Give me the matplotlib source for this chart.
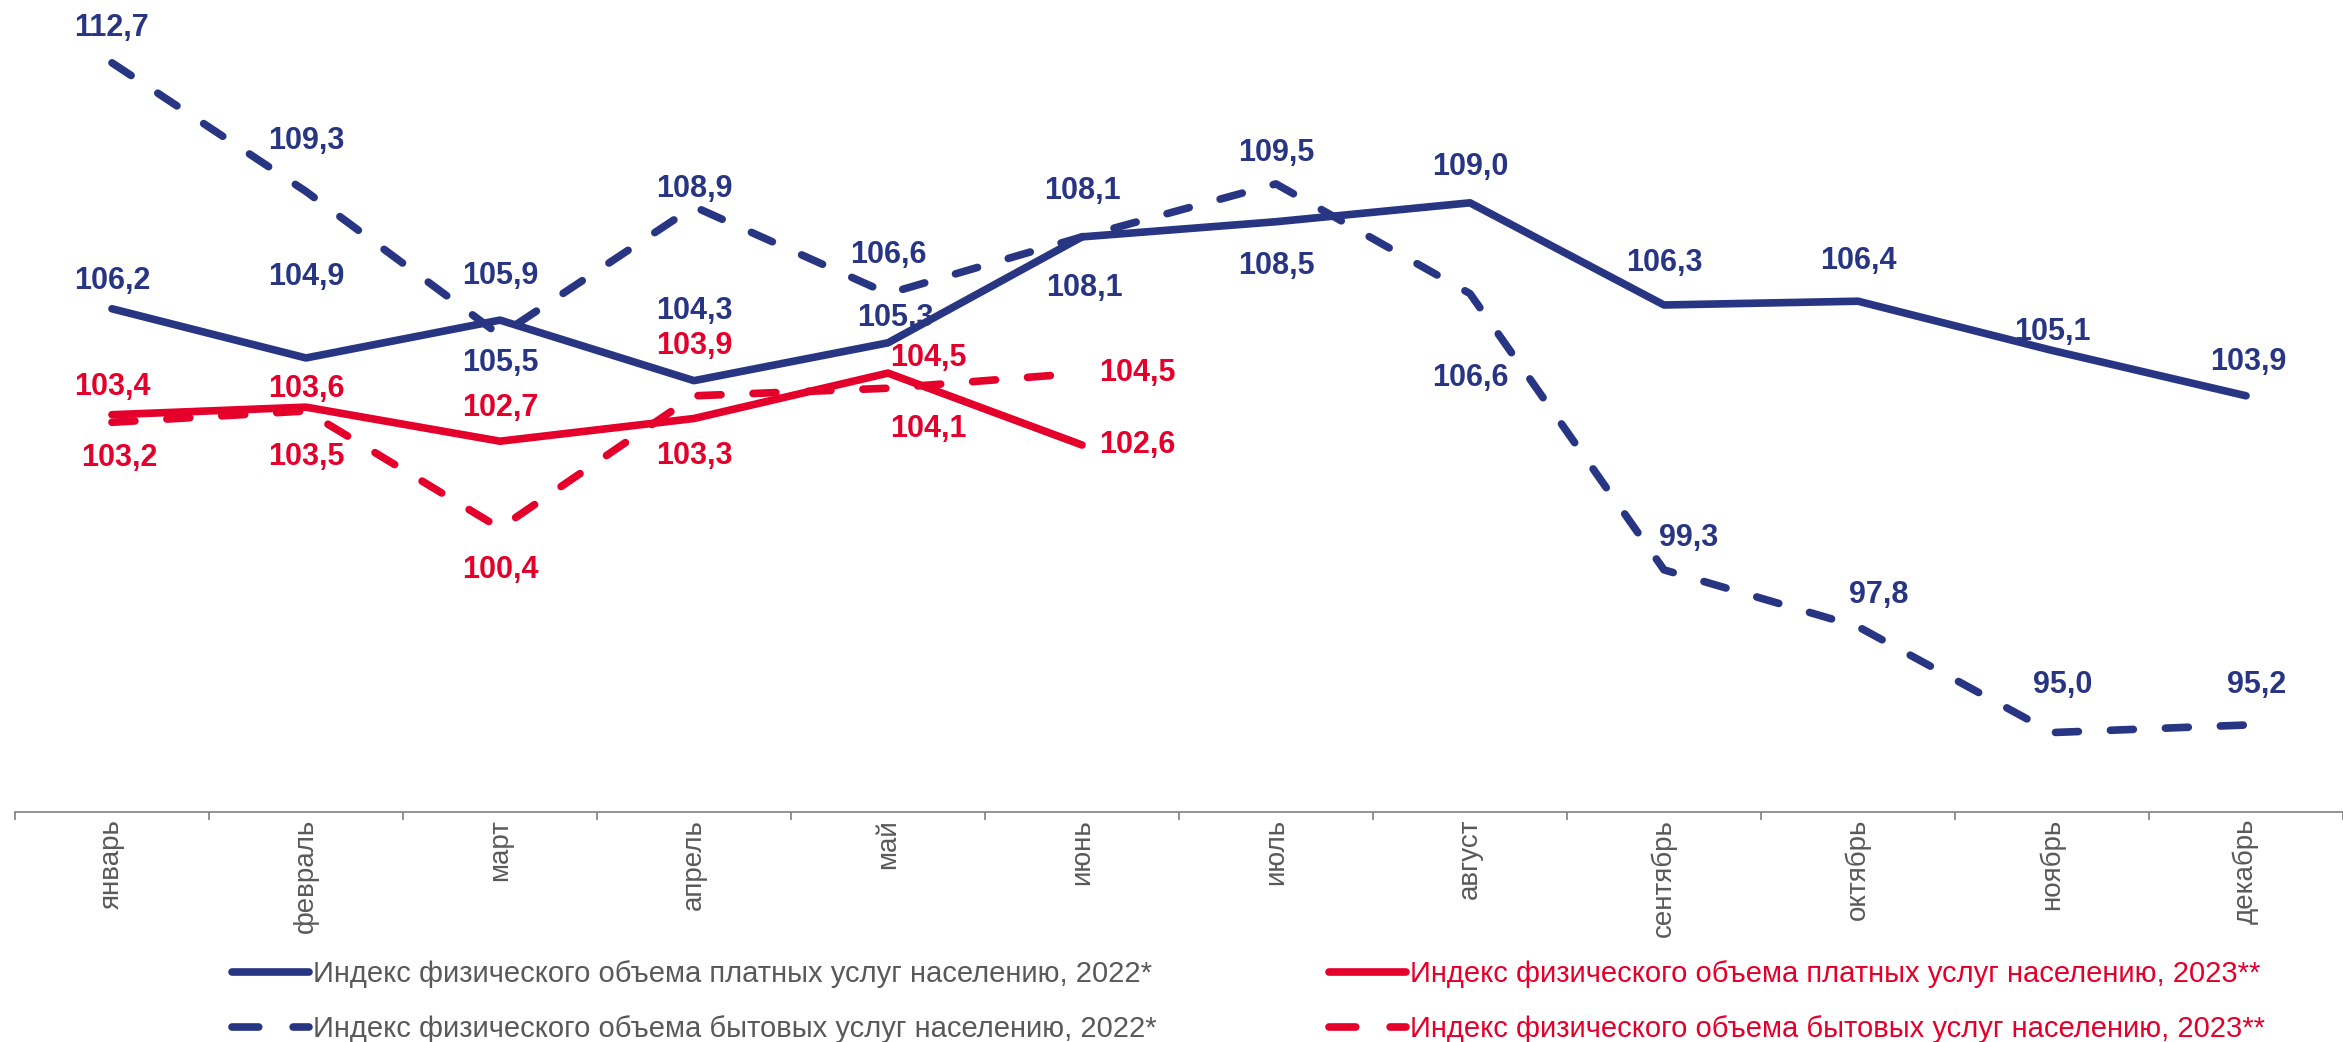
import matplotlib
matplotlib.use("Agg")
import matplotlib.pyplot as plt
from matplotlib.lines import Line2D

plt.rcParams['font.family'] = ['Liberation Sans', 'DejaVu Sans']

months = ["январь", "февраль", "март", "апрель", "май", "июнь",
          "июль", "август", "сентябрь", "октябрь", "ноябрь", "декабрь"]

paid_2022 = [106.2, 104.9, 105.9, 104.3, 105.3, 108.1, 108.5, 109.0, 106.3, 106.4, 105.1, 103.9]
house_2022 = [112.7, 109.3, 105.5, 108.9, 106.6, 108.1, 109.5, 106.6, 99.3, 97.8, 95.0, 95.2]
paid_2023 = [103.4, 103.6, 102.7, 103.3, 104.5, 102.6]
house_2023 = [103.2, 103.5, 100.4, 103.9, 104.1, 104.5]

labels = [
    "Индекс физического объема платных услуг населению, 2022*",
    "Индекс физического объема бытовых услуг населению, 2022*",
    "Индекс физического объема платных услуг населению, 2023**",
    "Индекс физического объема бытовых услуг населению, 2023**",
]

BLUE = "#283583"
RED = "#E4002B"
GRAY = "#595959"

# label offsets in points (dx, dy)
off_paid_2022 = [(0, 20), (0, 58), (0, 32), (0, 50), (5, 18), (2, -37),
                 (0, -32), (0, 26), (0, 30), (0, 29), (0, 13), (2, 24)]
off_house_2022 = [(0, 25), (0, 36), (0, -20), (0, 13), (0, 28), (0, 33),
                  (0, 22), (0, -61), (18, 23), (15, 23), (8, 34), (8, 29)]
off_paid_2023 = [(0, 20), (0, 13), (0, 24), (0, -27), (29, 11), (40, 0)]
off_house_2023 = [(5, -26), (0, -33), (0, -30), (0, 36), (29, -29), (40, 0)]

fig = plt.figure(figsize=(23.43, 10.42), dpi=100)
ax = fig.add_axes([0.0064, 0.2207, 0.9936, 0.7793])

x = list(range(len(months)))
lw = 5.5
ax.plot(x, paid_2022, color=BLUE, lw=lw, solid_capstyle="round", solid_joinstyle="round", zorder=3)
ax.plot(x, house_2022, color=BLUE, lw=lw, dashes=(3, 4.2), dash_capstyle="round", zorder=4)
ax.plot(x[:6], paid_2023, color=RED, lw=lw, solid_capstyle="round", solid_joinstyle="round", zorder=5)
ax.plot(x[:6], house_2023, color=RED, lw=lw, dashes=(3, 4.2), dash_capstyle="round", zorder=4)


def put_labels(vals, offs, color):
    for i, (v, (dx, dy)) in enumerate(zip(vals, offs)):
        ax.annotate(f"{v:.1f}".replace(".", ","), (i, v), xytext=(dx, dy),
                    textcoords="offset points", ha="center", va="center",
                    fontsize=22, fontweight="bold", color=color)


put_labels(paid_2022, off_paid_2022, BLUE)
put_labels(house_2022, off_house_2022, BLUE)
put_labels(paid_2023, off_paid_2023, RED)
put_labels(house_2023, off_house_2023, RED)

ax.set_xlim(-0.5, 11.5)
ax.set_ylim(92.9, 114.36)
for s in ["top", "right", "left"]:
    ax.spines[s].set_visible(False)
ax.spines["bottom"].set_color("#808080")
ax.spines["bottom"].set_linewidth(1.2)
ax.set_yticks([])
ax.set_xticks(x)
ax.set_xticklabels(months, rotation=90, fontsize=20, color=GRAY, va="top")
ax.tick_params(axis="x", which="major", length=0, pad=5)
ax.set_xticks([i - 0.5 for i in range(13)], minor=True)
ax.tick_params(axis="x", which="minor", length=6, color="#808080", width=1.2)

handles = [
    Line2D([], [], color=BLUE, lw=lw, solid_capstyle="round"),
    Line2D([], [], color=BLUE, lw=lw, dashes=(3.5, 4.5), dash_capstyle="round"),
    Line2D([], [], color=RED, lw=lw, solid_capstyle="round"),
    Line2D([], [], color=RED, lw=lw, dashes=(3.5, 4.5), dash_capstyle="round"),
]
leg = fig.legend(handles, labels, loc="lower left", ncol=2, frameon=False,
                 bbox_to_anchor=(0.099, -0.001), fontsize=21, handlelength=2.65,
                 handletextpad=0.14, columnspacing=5.9, labelspacing=0.92,
                 borderpad=0, borderaxespad=0)
for t, c in zip(leg.get_texts(), [GRAY, GRAY, RED, RED]):
    t.set_color(c)

fig.savefig("out.png", dpi=100)
